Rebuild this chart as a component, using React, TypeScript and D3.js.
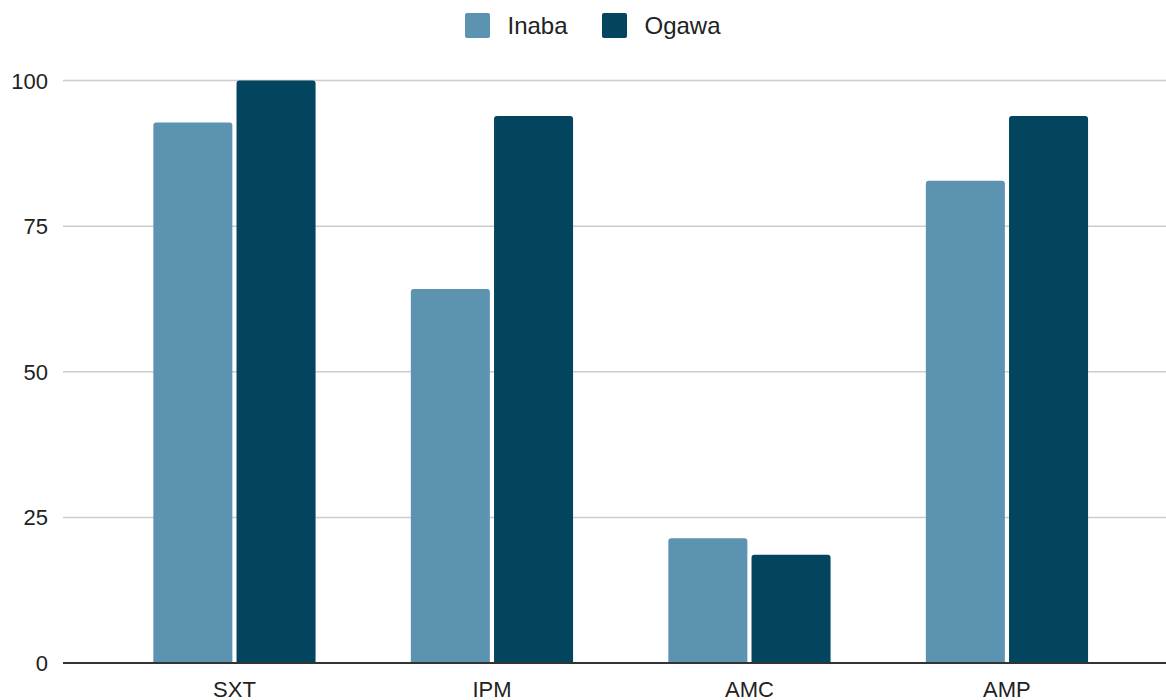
import React from "react";
import * as d3 from "d3";

const categories = ["SXT", "IPM", "AMC", "AMP"];
const seriesNames = ["Inaba", "Ogawa"];
const inabaValues = [92.8, 64.2, 21.4, 82.8];
const ogawaValues = [100, 93.9, 18.6, 93.9];
const yTicks = [0, 25, 50, 75, 100];

const colors: Record<string, string> = { Inaba: "#5b93b0", Ogawa: "#03455f" };

const W = 1166;
const H = 700;
const plotLeft = 63;
const plotRight = 1166;
const baseY = 663;
const topY = 80.5;

function topRoundedBar(x: number, y: number, w: number, h: number, r: number) {
  const rr = Math.min(r, h, w / 2);
  return `M${x},${y + h}V${y + rr}Q${x},${y} ${x + rr},${y}H${x + w - rr}Q${x + w},${y} ${x + w},${y + rr}V${y + h}Z`;
}

export default function App() {
  const x0 = d3
    .scaleBand<string>()
    .domain(categories)
    .range([105.7, 1135.7])
    .paddingInner(0.37)
    .paddingOuter(0.185);
  const x1 = d3
    .scaleBand<string>()
    .domain(seriesNames)
    .range([0, x0.bandwidth()])
    .paddingInner(0.05);
  const y = d3.scaleLinear().domain([0, 100]).range([baseY, topY]);

  const rows = categories.map((c, i) => ({
    category: c,
    values: { Inaba: inabaValues[i], Ogawa: ogawaValues[i] } as Record<string, number>,
  }));

  const legendItems = [
    { name: "Inaba", x: 465 },
    { name: "Ogawa", x: 602 },
  ];

  return (
    <svg
      width={W}
      height={H}
      style={{ position: "absolute", left: 0, top: 0, background: "#fff" }}
    >
      {/* gridlines */}
      {yTicks
        .filter((t) => t > 0)
        .map((t) => (
          <line
            key={t}
            x1={plotLeft}
            x2={plotRight}
            y1={y(t)}
            y2={y(t)}
            stroke="#cccccc"
            strokeWidth={1.5}
          />
        ))}
      {/* y tick labels */}
      {yTicks.map((t) => (
        <text
          key={t}
          x={48}
          y={y(t) + 8}
          textAnchor="end"
          fontFamily="Liberation Sans, Arial, sans-serif"
          fontSize={22}
          fill="#222"
        >
          {t}
        </text>
      ))}
      {/* bars */}
      {rows.map((r) => (
        <g key={r.category} transform={`translate(${x0(r.category)},0)`}>
          {seriesNames.map((s) => {
            const v = r.values[s];
            const yy = y(v);
            return (
              <path
                key={s}
                d={topRoundedBar(x1(s)!, yy, x1.bandwidth(), baseY - yy, 3)}
                fill={colors[s]}
              />
            );
          })}
        </g>
      ))}
      {/* baseline */}
      <line x1={plotLeft} x2={plotRight} y1={baseY} y2={baseY} stroke="#333" strokeWidth={2} />
      {/* x labels */}
      {categories.map((c) => (
        <text
          key={c}
          x={x0(c)! + x0.bandwidth() / 2}
          y={697}
          textAnchor="middle"
          fontFamily="Liberation Sans, Arial, sans-serif"
          fontSize={22}
          fill="#222"
        >
          {c}
        </text>
      ))}
      {/* legend */}
      {legendItems.map((l) => (
        <g key={l.name}>
          <rect x={l.x} y={13} width={25} height={25} rx={2} fill={colors[l.name]} />
          <text
            x={l.x + 42.5}
            y={33.5}
            fontFamily="Liberation Sans, Arial, sans-serif"
            fontSize={24}
            fill="#222"
          >
            {l.name}
          </text>
        </g>
      ))}
    </svg>
  );
}
